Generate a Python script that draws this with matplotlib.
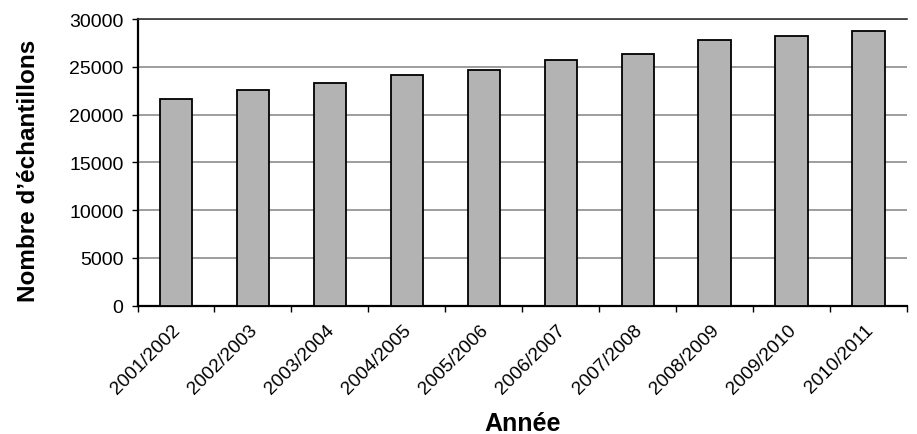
import matplotlib
matplotlib.use("Agg")
import matplotlib.pyplot as plt
import matplotlib.transforms as mtransforms
import numpy as np

plt.rcParams.update({"font.family": ["Liberation Sans", "DejaVu Sans"], "font.size": 13})

annees = ["2001/2002", "2002/2003", "2003/2004", "2004/2005", "2005/2006",
          "2006/2007", "2007/2008", "2008/2009", "2009/2010", "2010/2011"]
echantillons = [21640, 22620, 23280, 24120, 24640, 25690, 26320, 27830, 28200, 28700]

fig = plt.figure(figsize=(9.17, 4.35), dpi=100)
ax = fig.add_axes([137.5 / 917, 1 - 306.7 / 435, (907 - 137.5) / 917, 286.7 / 435])

x = np.arange(len(annees))
ax.bar(x, echantillons, width=0.42, color="#b3b3b3", edgecolor="black", linewidth=1.3, zorder=3)

ax.set_xlim(-0.5, len(annees) - 0.5)
ax.set_ylim(0, 30000)
ax.set_yticks(np.arange(0, 30001, 5000))
ax.yaxis.grid(True, color="#8c8c8c", lw=1.2, zorder=0)
ax.tick_params(axis="y", length=4, width=1, direction="out", pad=6, labelsize=14)

ax.set_xticks(x)
ax.set_xticklabels(annees, rotation=45, ha="right", rotation_mode="anchor", fontsize=13.7)
ax.tick_params(axis="x", length=0, pad=11)
offset = mtransforms.ScaledTranslation(-3 / 72, 0, fig.dpi_scale_trans)
for lab in ax.get_xticklabels():
    lab.set_transform(lab.get_transform() + offset)
# category boundary ticks
ax.set_xticks(np.arange(-0.5, len(annees), 1), minor=True)
ax.tick_params(axis="x", which="minor", length=4, width=1, direction="out")

ax.spines["right"].set_visible(False)
ax.spines["top"].set_color("#333333")
ax.spines["top"].set_linewidth(1.2)
ax.spines["left"].set_linewidth(1.6)
ax.spines["bottom"].set_linewidth(1.6)

ax.set_ylabel("Nombre d\u2019échantillons", fontsize=17.5, fontweight="bold")
ax.yaxis.set_label_coords(-0.127, 0.475)
ax.set_xlabel("Année", fontsize=18, fontweight="bold", labelpad=10)

fig.savefig("out.png", dpi=100)
